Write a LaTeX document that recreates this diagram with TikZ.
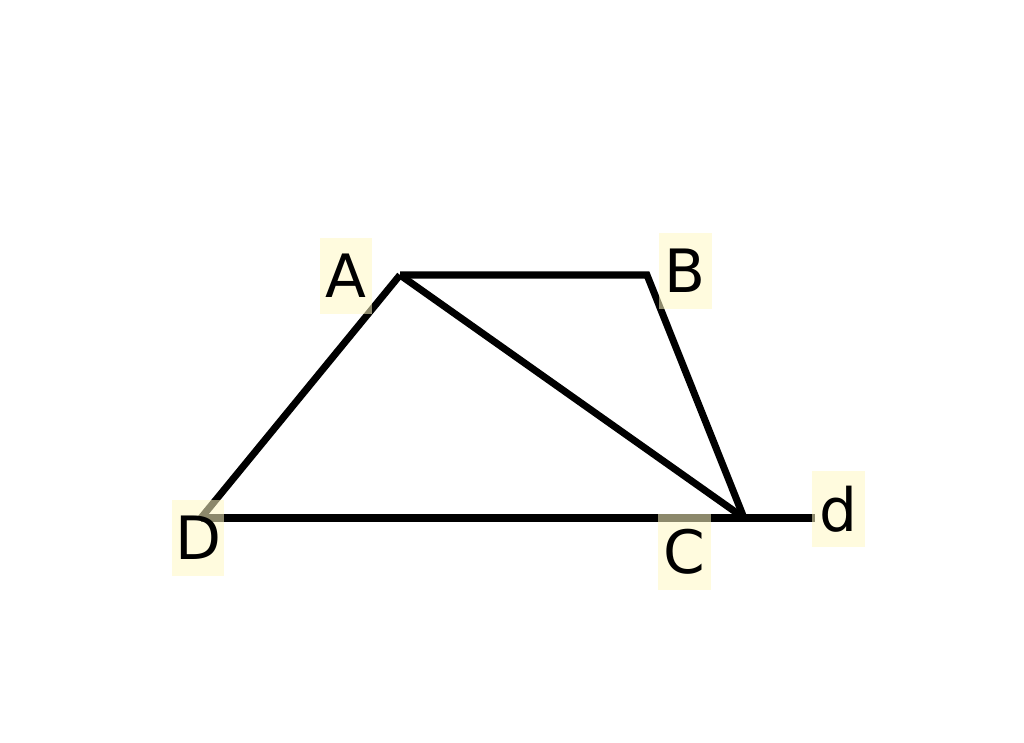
\documentclass[tikz,border=0pt]{standalone}
\usepackage{fontspec}
\setmainfont{DejaVu Sans}
\definecolor{labelbg}{RGB}{255,248,195}

\begin{document}
\begin{tikzpicture}[x=0.02cm, y=-0.02cm,
        edge/.style = {draw, line width=4pt},
        lbl/.style = {fill=labelbg, fill opacity=0.55, text opacity=1, inner sep=0pt,
                      minimum width=1.06cm, minimum height=1.54cm, font=\fontsize{34}{34}\selectfont}]
        \useasboundingbox (0,0) rectangle (1024,743);
        % corners of the trapezoid
        \coordinate (pA) at (400,275);
        \coordinate (pB) at (647,275);
        \coordinate (pC) at (744,518);
        \coordinate (pD) at (201,518);
        \coordinate (pd) at (815,518);
        \draw[edge] (pA) -- (pB) -- (pC);
        \draw[edge] (pA) -- (pC);
        \draw[edge] (pD) -- (pA);
        \draw[edge] (pD) -- (pd);
        % letters
        \node[lbl] (A) at (346,276) {A};
        \node[lbl] (B) at (685,271) {B};
        \node[lbl] (D) at (198,538) {D};
        \node[lbl] (C) at (684,552) {C};
        \node[lbl] (d) at (838,509) {d};
    \end{tikzpicture}
\end{document}
